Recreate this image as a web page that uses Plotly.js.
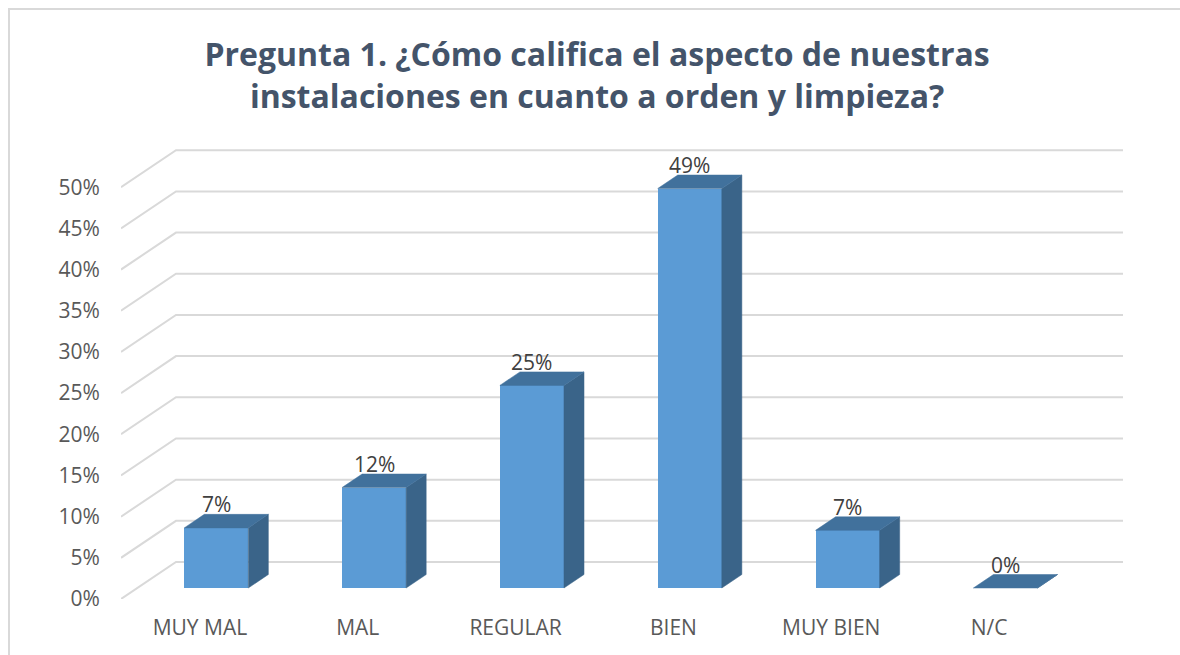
<!DOCTYPE html>
<html>
<head>
<meta charset="utf-8">
<script src="https://cdn.plot.ly/plotly-3.0.1.min.js"></script>
<style>
  html, body { margin: 0; padding: 0; background: #ffffff; }
  #wrap { position: relative; width: 1180px; height: 655px; overflow: hidden; }
  #chart { position: absolute; left: 0; top: 0; width: 1180px; height: 655px; }
  #frame { position: absolute; left: 8px; top: 8px; width: 1200px; height: 700px;
           border: 2px solid #D9D9D9; box-sizing: border-box; pointer-events: none; }
</style>
</head>
<body>
<div id="wrap">
  <div id="chart"></div>
  <div id="frame"></div>
</div>
<script>
// ---- data ----
const categories = ['MUY MAL', 'MAL', 'REGULAR', 'BIEN', 'MUY BIEN', 'N/C'];
const values = [7.3, 12.2, 24.6, 48.5, 7.0, 0];
const valueLabels = ['7%', '12%', '25%', '49%', '7%', '0%'];
const yTickVals = [0, 5, 10, 15, 20, 25, 30, 35, 40, 45, 50];
const yTickText = ['0%', '5%', '10%', '15%', '20%', '25%', '30%', '35%', '40%', '45%', '50%'];
const titleText = 'Pregunta 1. ¿Cómo califica el aspecto de nuestras<br>instalaciones en cuanto a orden y limpieza?';

// ---- oblique projection (style constants, in axis units) ----
const X0 = -0.5, X1 = 5.5;          // floor extent in category units
const DX = 0.3485, DY = 4.49;       // full wall depth
const OX = 0.1036, OY = 1.335;      // bar front plane offset
const BX = 0.127, BY = 1.64;        // bar depth
const HW = 0.203;                   // bar half width

const grid = '#D9D9D9';
const cFront = '#5B9BD5', cTop = '#41719C', cSide = '#3A6489';

const traces = [];

// back wall + left wall gridlines, drawn below the bars
const shapes = yTickVals.map(g => ({
  type: 'path', xref: 'x', yref: 'y', layer: 'below',
  path: 'M ' + X0 + ',' + g + ' L ' + (X0 + DX) + ',' + (g + DY) + ' L ' + (X1 + DX) + ',' + (g + DY),
  line: { color: grid, width: 2 }
}));

// bar side and top faces
categories.forEach((c, i) => {
  const v = values[i];
  const xl = i - HW + OX, xr = i + HW + OX;
  const yb = OY, yt = v + OY;
  traces.push({
    type: 'scatter', mode: 'lines', hoverinfo: 'skip', showlegend: false,
    x: [xr, xr + BX, xr + BX, xr, xr], y: [yb, yb + BY, yt + BY, yt, yb],
    fill: 'toself', fillcolor: cSide, line: { color: cSide, width: 0.5 }
  });
  traces.push({
    type: 'scatter', mode: 'lines', hoverinfo: 'skip', showlegend: false,
    x: [xl, xr, xr + BX, xl + BX, xl], y: [yt, yt, yt + BY, yt + BY, yt],
    fill: 'toself', fillcolor: cTop, line: { color: cTop, width: 0.5 }
  });
});

// bar front faces
traces.unshift({
  type: 'bar', showlegend: false, hoverinfo: 'skip',
  x: categories.map((c, i) => i + OX),
  y: values,
  base: values.map(() => OY),
  width: 2 * HW,
  marker: { color: cFront, line: { width: 0 } }
});

const annotations = categories.map((c, i) => ({
  x: i + OX, y: values[i] + OY + BY, xref: 'x', yref: 'y',
  text: valueLabels[i], showarrow: false, yanchor: 'middle', yshift: 10,
  font: { family: 'Open Sans, sans-serif', size: 21, color: '#404040' }
}));

const layout = {
  width: 1180, height: 655,
  paper_bgcolor: '#ffffff', plot_bgcolor: 'rgba(0,0,0,0)',
  margin: { l: 121, r: 57, t: 146, b: 56, pad: 0 },
  title: {
    text: titleText, xref: 'container', yref: 'container',
    x: 0.506, xanchor: 'center', y: 1 - 66 / 655, yanchor: 'middle',
    font: { family: 'Open Sans, sans-serif', size: 32, color: '#44546A', weight: 700 }
  },
  xaxis: {
    range: [X0, X1 + DX], showgrid: false, zeroline: false, showline: false,
    tickvals: categories.map((c, i) => i), ticktext: categories,
    ticks: 'outside', ticklen: 10, tickcolor: 'rgba(0,0,0,0)',
    tickfont: { family: 'Open Sans, sans-serif', size: 21, color: '#595959' },
    fixedrange: true
  },
  yaxis: {
    range: [0, 55], showgrid: false, zeroline: false, showline: false,
    tickvals: yTickVals, ticktext: yTickText,
    ticks: 'outside', ticklen: 16, tickcolor: 'rgba(0,0,0,0)',
    tickfont: { family: 'Open Sans, sans-serif', size: 21, color: '#595959' },
    fixedrange: true
  },
  shapes: shapes,
  annotations: annotations,
  bargap: 0
};

Plotly.newPlot('chart', traces, layout, { displayModeBar: false, staticPlot: true });
</script>
</body>
</html>
